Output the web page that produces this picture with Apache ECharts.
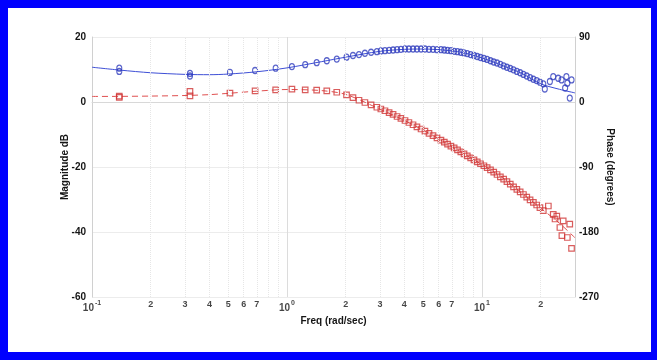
<!DOCTYPE html>
<html>
<head>
<meta charset="utf-8">
<script src="https://cdn.jsdelivr.net/npm/echarts@6.0.0/dist/echarts.min.js"></script>
<style>
html, body { margin: 0; padding: 0; background: #fff; }
#wrap { position: relative; width: 657px; height: 360px; }
#chart { position: absolute; left: 0; top: 0; width: 657px; height: 360px; }
#frame { position: absolute; left: 0; top: 0; width: 657px; height: 360px; box-sizing: border-box;
  border-style: solid; border-color: #0000fe; border-width: 8px 6px 8px 8px; pointer-events: none; }
</style>
</head>
<body>
<div id="wrap"><div id="chart"></div><div id="frame"></div></div>
<script>
// Measured sweep (rad/sec) shared by both responses
const freq = [0.138, 0.138, 0.318, 0.318, 0.51, 0.686, 0.875, 1.06, 1.24, 1.42, 1.6, 1.8, 2.02,
  2.18, 2.34, 2.51, 2.70, 2.89, 3.03,
  3.18, 3.34, 3.50, 3.67, 3.84, 4.03, 4.22, 4.43, 4.64, 4.87, 5.10, 5.35, 5.61, 5.88, 6.16,
  6.41, 6.66, 6.93, 7.20, 7.49, 7.79, 8.09, 8.41, 8.75, 9.10, 9.46, 9.83, 10.23, 10.63, 11.06,
  11.49, 11.95, 12.43, 12.92, 13.43, 13.97, 14.52, 15.10, 15.70, 16.32, 16.97, 17.65, 18.35,
  19.08, 19.83, 20.63];

// Measured magnitude (dB)
const magDb = [10.4, 9.4, 8.8, 8.0, 9.1, 9.7, 10.4, 10.9, 11.5, 12.1, 12.7, 13.2, 13.8,
  14.3, 14.6, 15.0, 15.3, 15.5, 15.7,
  15.8, 15.9, 16.0, 16.1, 16.2, 16.3, 16.3, 16.3, 16.3, 16.3, 16.3, 16.2, 16.2, 16.1, 16.1,
  16.0, 15.9, 15.8, 15.6, 15.5, 15.3, 15.1, 14.9, 14.6, 14.3, 14.0, 13.7, 13.4, 13.1, 12.7,
  12.3, 12.0, 11.6, 11.1, 10.7, 10.3, 9.9, 9.4, 9.0, 8.5, 8.0, 7.5, 7.0,
  6.6, 6.1, 5.6];

// Measured phase (degrees)
const phaseDeg = [6.3, 8.0, 14.6, 8.6, 12.4, 15.5, 16.9, 17.9, 16.9, 16.5, 15.5, 13.5, 10.0,
  6.1, 2.4, -0.7, -4.0, -7.3, -9.7,
  -12.1, -14.6, -17.2, -20.1, -22.8, -25.6, -28.4, -31.5, -34.4, -37.4, -40.3, -43.5, -46.6, -49.7, -52.8,
  -55.6, -58.2, -61.0, -63.6, -66.4, -69.1, -71.8, -74.5, -77.3, -80.1, -82.8, -85.5, -88.3, -91.0, -93.9,
  -97.1, -100.4, -103.7, -106.9, -110.2, -113.8, -117.4, -121.0, -124.5, -128.1, -131.7, -135.4, -139.0,
  -142.6, -146.2, -150.5];

// Noisy high-frequency end of each measurement
const magTailFreq = [21.0, 22.3, 23.2, 24.6, 25.6, 26.7, 27.1, 27.4, 28.2, 28.8];
const magTailDb = [4.0, 6.3, 7.8, 7.3, 6.8, 4.3, 7.8, 5.8, 1.2, 6.8];
const phaseTailFreq = [21.9, 23.2, 23.7, 24.2, 25.1, 25.7, 26.1, 27.4, 28.2, 28.8];
const phaseTailDeg = [-144, -155.5, -162, -158, -173.8, -185, -164.7, -187.6, -169, -202.8];

// Fitted model curves
const fitFreq = [0.1, 0.14, 0.2, 0.3, 0.4, 0.5, 0.7, 1, 1.5, 2, 3, 4, 5, 6, 7.5, 9, 11, 13, 16, 20, 25, 30];
const fitMagDb = [10.7, 9.8, 9.0, 8.5, 8.4, 8.6, 9.3, 10.5, 12.4, 13.8, 15.6, 16.2, 16.3, 16.1, 15.5,
  14.4, 12.7, 11.0, 8.8, 5.6, 3.9, 2.8];
const fitPhaseDeg = [7.7, 7.8, 8.2, 9.0, 10.2, 12.0, 15.0, 17.3, 15.8, 10.5, -10.0, -25.5, -39.0, -51.0,
  -66.5, -79.3, -93.4, -106.5, -126.0, -147.0, -168.0, -188.0];

// Frequency axis labels: decades carry an exponent, the rest are in-decade multipliers
const decadeValues = [0.1, 1, 10];
const decadeExponents = ['-1', '0', '1'];
const minorValues = [0.2, 0.3, 0.4, 0.5, 0.6, 0.7, 2, 3, 4, 5, 6, 7, 20];
const minorLabels = ['2', '3', '4', '5', '6', '7', '2', '3', '4', '5', '6', '7', '2'];
const minorGrid = [0.2, 0.3, 0.4, 0.5, 0.6, 0.7, 0.8, 0.9, 2, 3, 4, 5, 6, 7, 8, 9, 20];

const pairs = (xs, ys) => xs.map((x, i) => [x, ys[i]]);
const txt = '#151515';
const font = 'Liberation Sans, Arial, sans-serif';

const chart = echarts.init(document.getElementById('chart'), null, { renderer: 'canvas' });
chart.setOption({
  animation: false,
  backgroundColor: '#fff',
  grid: { left: 92, right: 82, top: 37, bottom: 63 },
  xAxis: {
    type: 'log', logBase: 10, min: 0.1, max: 30,
    name: 'Freq (rad/sec)', nameLocation: 'middle', nameGap: 19, nameMoveOverlap: false,
    nameTextStyle: { color: txt, fontSize: 10, fontWeight: 'bold', fontFamily: font },
    axisLine: { show: true, lineStyle: { color: '#d8d8d8' } },
    axisTick: { show: false },
    axisLabel: { show: false },
    splitLine: { show: true, lineStyle: { color: '#dcdcdc', width: 1 } }
  },
  yAxis: [{
    type: 'value', min: -60, max: 20, interval: 20,
    name: 'Magnitude dB', nameLocation: 'middle', nameGap: 22, nameMoveOverlap: false,
    nameTextStyle: { color: txt, fontSize: 10, fontWeight: 'bold', fontFamily: font },
    axisLine: { show: true, lineStyle: { color: '#d0d0d0' } },
    axisTick: { show: false },
    axisLabel: { color: txt, fontSize: 10, fontWeight: 'bold', fontFamily: font, margin: 6 },
    splitLine: { show: true, lineStyle: { color: '#ececec', width: 1 } }
  }, {
    type: 'value', min: -270, max: 90, interval: 90, position: 'right',
    name: 'Phase (degrees)', nameLocation: 'middle', nameGap: 30, nameRotate: -90, nameMoveOverlap: false,
    nameTextStyle: { color: txt, fontSize: 10, fontWeight: 'bold', fontFamily: font },
    axisLine: { show: true, lineStyle: { color: '#d0d0d0' } },
    axisTick: { show: false },
    axisLabel: { color: txt, fontSize: 10, fontWeight: 'bold', fontFamily: font, margin: 4 },
    splitLine: { show: false }
  }],
  series: [
    {
      name: 'decade labels', type: 'scatter', symbolSize: 0, silent: true, clip: false,
      data: decadeValues.map(v => [v, -60]),
      label: {
        show: true, position: 'bottom', distance: 5, color: txt, fontFamily: font,
        formatter: p => '{b|10}{s|' + decadeExponents[p.dataIndex] + '}',
        rich: {
          b: { fontSize: 10, fontWeight: 'bold', lineHeight: 11, verticalAlign: 'bottom', color: txt, fontFamily: font },
          s: { fontSize: 7, fontWeight: 'bold', lineHeight: 8, verticalAlign: 'bottom', padding: [0, 0, 6, 1], color: txt, fontFamily: font }
        }
      }
    },
    {
      name: 'multiplier labels', type: 'scatter', symbolSize: 0, silent: true, clip: false,
      data: minorValues.map(v => [v, -60]),
      label: {
        show: true, position: 'bottom', distance: 3, color: txt, fontFamily: font,
        fontSize: 9, fontWeight: 'bold', lineHeight: 10,
        formatter: p => minorLabels[p.dataIndex]
      },
      markLine: {
        silent: true, symbol: 'none', label: { show: false },
        lineStyle: { color: '#e6e6e6', type: 'dotted', width: 1 },
        data: minorGrid.map(v => ({ xAxis: v }))
      }
    },
    {
      name: 'Magnitude fit', type: 'line', yAxisIndex: 0, smooth: 0.3, showSymbol: false, silent: true,
      data: pairs(fitFreq, fitMagDb),
      lineStyle: { color: '#3e4fd6', width: 1 }, z: 2
    },
    {
      name: 'Phase fit', type: 'line', yAxisIndex: 1, smooth: 0.3, showSymbol: false, silent: true,
      data: pairs(fitFreq, fitPhaseDeg),
      lineStyle: { color: '#e05050', width: 1, type: [6, 4] }, z: 2
    },
    {
      name: 'Magnitude', type: 'scatter', yAxisIndex: 0, symbol: 'circle', symbolSize: [5, 6],
      data: pairs(freq, magDb).concat(pairs(magTailFreq, magTailDb)),
      itemStyle: { color: 'rgba(0,0,0,0)', borderColor: '#2f3cbd', borderWidth: 1.2 }, z: 3
    },
    {
      name: 'Phase', type: 'scatter', yAxisIndex: 1, symbol: 'rect', symbolSize: 5.5,
      data: pairs(freq, phaseDeg).concat(pairs(phaseTailFreq, phaseTailDeg)),
      itemStyle: { color: 'rgba(0,0,0,0)', borderColor: '#cf3535', borderWidth: 1.2 }, z: 3
    }
  ]
});
</script>
</body>
</html>
